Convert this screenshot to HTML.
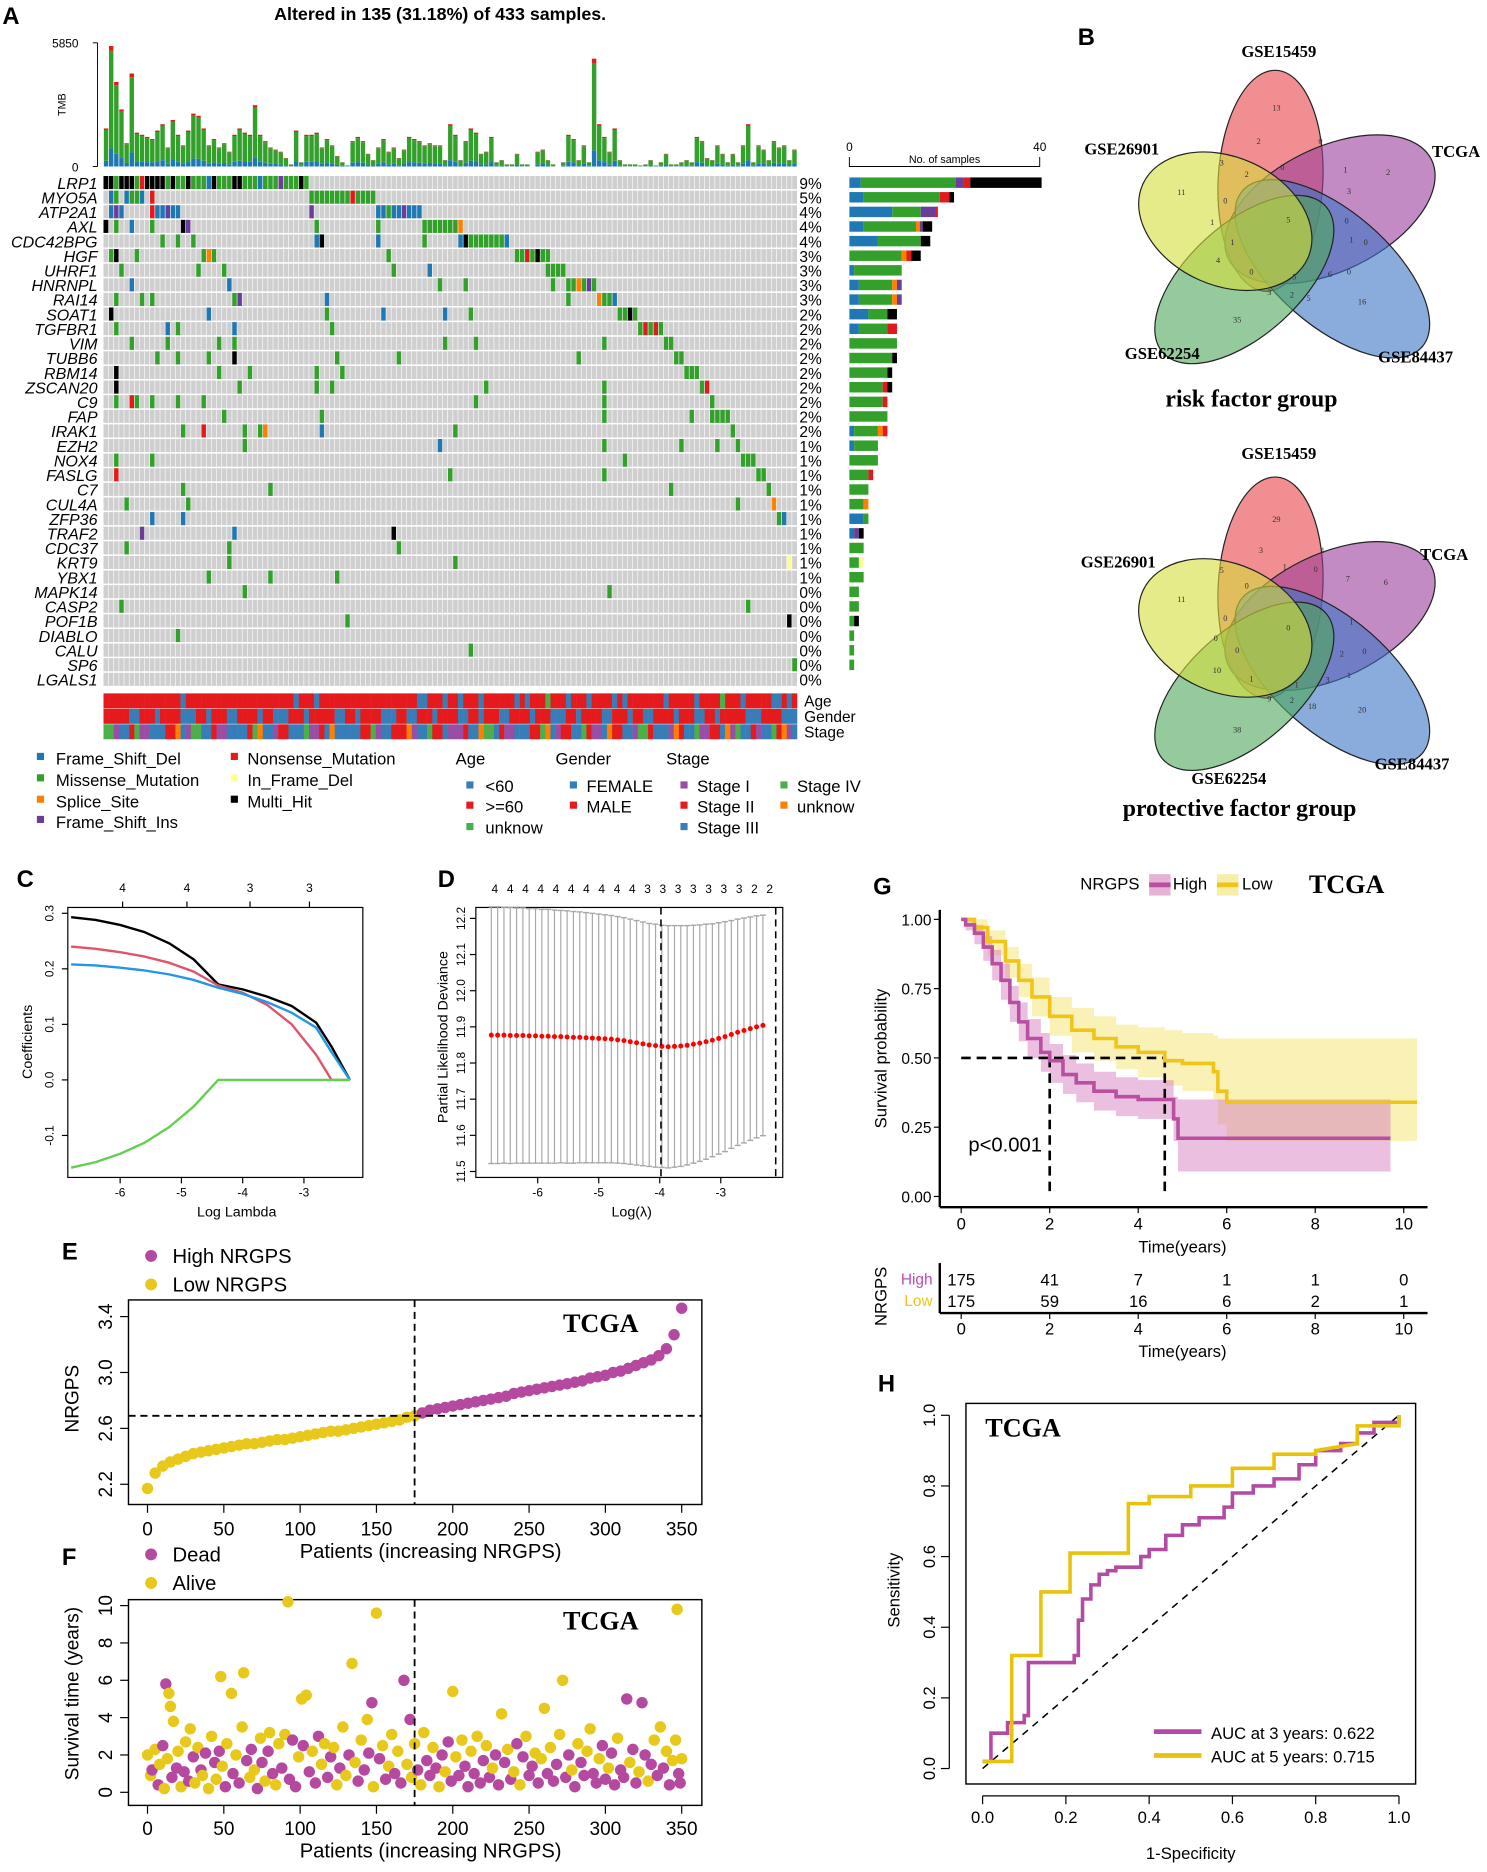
<!DOCTYPE html>
<html><head><meta charset="utf-8"><style>
html,body{margin:0;padding:0;background:#fff;}
svg{display:block;font-family:"Liberation Sans",sans-serif;}
.serif{font-family:"Liberation Serif",serif;font-weight:bold;}
</style></head><body>
<svg id="fig" width="1487" height="1872" viewBox="0 0 1250 1574" preserveAspectRatio="none" xmlns="http://www.w3.org/2000/svg">
<rect x="0" y="0" width="1250" height="1574" fill="#fff"/>
<text x="2" y="20" font-size="20" font-weight="bold">A</text>
<text x="370" y="17" font-size="15" font-weight="bold" text-anchor="middle">Altered in 135 (31.18%) of 433 samples.</text>
<text transform="translate(55,88) rotate(-90)" font-size="9" text-anchor="middle">TMB</text>
<text x="66" y="40" font-size="10" text-anchor="end">5850</text>
<text x="66" y="144" font-size="10" text-anchor="end">0</text>
<line x1="82" y1="36" x2="82" y2="140" stroke="#000" stroke-width="0.8"/>
<line x1="78" y1="36" x2="82" y2="36" stroke="#000" stroke-width="0.8"/>
<line x1="78" y1="140" x2="82" y2="140" stroke="#000" stroke-width="0.8"/>
<text x="714" y="127" font-size="10" text-anchor="middle">0</text>
<text x="874" y="127" font-size="10" text-anchor="middle">40</text>
<text x="794" y="137" font-size="9" text-anchor="middle">No. of samples</text>
<path d="M714,132 V140 H874 V132" fill="none" stroke="#000" stroke-width="0.8"/>
<text x="676" y="594" font-size="13">Age</text>
<text x="676" y="607" font-size="13">Gender</text>
<text x="676" y="620" font-size="13">Stage</text>
<g id="gA"></g>
<g font-size="14">
<rect x="31" y="633" width="6" height="6" fill="#1f78b4"/><text x="47" y="643">Frame_Shift_Del</text>
<rect x="31" y="651" width="6" height="6" fill="#33a02c"/><text x="47" y="661">Missense_Mutation</text>
<rect x="31" y="669" width="6" height="6" fill="#ff7f00"/><text x="47" y="679">Splice_Site</text>
<rect x="31" y="686" width="6" height="6" fill="#6a3d9a"/><text x="47" y="696">Frame_Shift_Ins</text>
<rect x="194" y="633" width="6" height="6" fill="#e31a1c"/><text x="208" y="643">Nonsense_Mutation</text>
<rect x="194" y="651" width="6" height="6" fill="#ffff99"/><text x="208" y="661">In_Frame_Del</text>
<rect x="194" y="669" width="6" height="6" fill="#000"/><text x="208" y="679">Multi_Hit</text>
<text x="383" y="643">Age</text><text x="467" y="643">Gender</text><text x="560" y="643">Stage</text>
<rect x="392" y="657" width="6" height="6" fill="#377eb8"/><text x="408" y="666">&lt;60</text>
<rect x="392" y="674" width="6" height="6" fill="#e41a1c"/><text x="408" y="683">&gt;=60</text>
<rect x="392" y="692" width="6" height="6" fill="#4daf4a"/><text x="408" y="701">unknow</text>
<rect x="479" y="657" width="6" height="6" fill="#377eb8"/><text x="493" y="666">FEMALE</text>
<rect x="479" y="674" width="6" height="6" fill="#e41a1c"/><text x="493" y="683">MALE</text>
<rect x="572" y="657" width="6" height="6" fill="#984ea3"/><text x="586" y="666">Stage I</text>
<rect x="572" y="674" width="6" height="6" fill="#e41a1c"/><text x="586" y="683">Stage II</text>
<rect x="572" y="692" width="6" height="6" fill="#377eb8"/><text x="586" y="701">Stage III</text>
<rect x="656" y="657" width="6" height="6" fill="#4daf4a"/><text x="670" y="666">Stage IV</text>
<rect x="656" y="674" width="6" height="6" fill="#ff7f00"/><text x="670" y="683">unknow</text>
</g>
<text x="906" y="38" font-size="20" font-weight="bold">B</text>
<g id="venn1"></g>
<g id="venn2" transform="translate(0,342)"></g>
<g class="serif" font-size="14">
<text x="1075" y="48" text-anchor="middle">GSE15459</text>
<text x="943" y="130" text-anchor="middle">GSE26901</text>
<text x="1224" y="132" text-anchor="middle">TCGA</text>
<text x="977" y="302" text-anchor="middle">GSE62254</text>
<text x="1190" y="305" text-anchor="middle">GSE84437</text>
<text x="1052" y="342" text-anchor="middle" font-size="20">risk factor group</text>
<text x="1075" y="386" text-anchor="middle">GSE15459</text>
<text x="940" y="477" text-anchor="middle">GSE26901</text>
<text x="1214" y="471" text-anchor="middle">TCGA</text>
<text x="1033" y="659" text-anchor="middle">GSE62254</text>
<text x="1187" y="647" text-anchor="middle">GSE84437</text>
<text x="1042" y="686" text-anchor="middle" font-size="20">protective factor group</text>
</g>
<text x="14" y="746" font-size="20" font-weight="bold">C</text>
<rect x="57" y="763" width="248" height="227" fill="none" stroke="#000" stroke-width="1"/>
<text x="199" y="1023" font-size="12" text-anchor="middle">Log Lambda</text>
<text transform="translate(27,876) rotate(-90)" font-size="12" text-anchor="middle">Coefficients</text>
<g id="gC"></g>
<text x="368" y="746" font-size="20" font-weight="bold">D</text>
<rect x="400" y="763" width="258" height="227" fill="none" stroke="#000" stroke-width="1"/>
<text x="531" y="1023" font-size="12" text-anchor="middle">Log(λ)</text>
<text transform="translate(376,872) rotate(-90)" font-size="12" text-anchor="middle">Partial Likelihood Deviance</text>
<g id="gD"></g>
<text x="734" y="752" font-size="20" font-weight="bold">G</text>
<g>
<text x="933" y="748" font-size="14" text-anchor="middle">NRGPS</text>
<rect x="966" y="735" width="18" height="18" fill="#e6b3d6"/><rect x="966" y="742" width="18" height="4" fill="#b84fa0"/>
<text x="986" y="748" font-size="14">High</text>
<rect x="1023" y="735" width="18" height="18" fill="#f7eeaa"/><rect x="1023" y="742" width="18" height="4" fill="#f0c419"/>
<text x="1044" y="748" font-size="14">Low</text>
<text class="serif" x="1132" y="751" font-size="22" text-anchor="middle">TCGA</text>
</g>
<text transform="translate(745,890) rotate(-90)" font-size="14" text-anchor="middle">Survival probability</text>
<text x="994" y="1053" font-size="14" text-anchor="middle">Time(years)</text>
<text x="814" y="968" font-size="17">p&lt;0.001</text>
<text transform="translate(745,1090) rotate(-90)" font-size="14" text-anchor="middle">NRGPS</text>
<text x="784" y="1080" font-size="13" fill="#c04cb0" text-anchor="end">High</text>
<text x="784" y="1098" font-size="13" fill="#f0c419" text-anchor="end">Low</text>
<text x="994" y="1141" font-size="14" text-anchor="middle">Time(years)</text>
<g id="gG"></g>
<text x="52" y="1059" font-size="20" font-weight="bold">E</text>
<circle cx="127" cy="1056" r="5" fill="#b5499f"/><text x="145" y="1062" font-size="17">High NRGPS</text>
<circle cx="127" cy="1080" r="5" fill="#e8c81a"/><text x="145" y="1086" font-size="17">Low NRGPS</text>
<rect x="108" y="1093" width="482" height="172" fill="none" stroke="#000" stroke-width="1.2"/>
<text class="serif" x="505" y="1120" font-size="22" text-anchor="middle">TCGA</text>
<text transform="translate(66,1176) rotate(-90)" font-size="16" text-anchor="middle">NRGPS</text>
<text x="362" y="1310" font-size="17" text-anchor="middle">Patients (increasing NRGPS)</text>
<g id="gE"></g>
<text x="52" y="1316" font-size="20" font-weight="bold">F</text>
<circle cx="127" cy="1307" r="5" fill="#b5499f"/><text x="145" y="1313" font-size="17">Dead</text>
<circle cx="127" cy="1331" r="5" fill="#e8c81a"/><text x="145" y="1337" font-size="17">Alive</text>
<rect x="108" y="1345" width="482" height="173" fill="none" stroke="#000" stroke-width="1.2"/>
<text class="serif" x="505" y="1370" font-size="22" text-anchor="middle">TCGA</text>
<text transform="translate(66,1424) rotate(-90)" font-size="16" text-anchor="middle">Survival time (years)</text>
<text x="362" y="1562" font-size="17" text-anchor="middle">Patients (increasing NRGPS)</text>
<g id="gF"></g>
<text x="738" y="1170" font-size="20" font-weight="bold">H</text>
<rect x="812" y="1180" width="378" height="320" fill="none" stroke="#000" stroke-width="1.2"/>
<text class="serif" x="860" y="1208" font-size="22" text-anchor="middle">TCGA</text>
<text transform="translate(756,1337) rotate(-90)" font-size="14" text-anchor="middle">Sensitivity</text>
<text x="1001" y="1563" font-size="14" text-anchor="middle">1-Specificity</text>
<g>
<line x1="970" y1="1456" x2="1010" y2="1456" stroke="#b44aa5" stroke-width="4"/>
<text x="1018" y="1462" font-size="14">AUC at 3 years: 0.622</text>
<line x1="970" y1="1476" x2="1010" y2="1476" stroke="#e8c30a" stroke-width="4"/>
<text x="1018" y="1482" font-size="14">AUC at 5 years: 0.715</text>
</g>
<g id="gH"></g>
</svg>
<script>
const tmbValues=[1800,5700,4000,2700,1100,4400,1600,1500,1400,1300,1700,2000,900,2200,1500,1000,1700,2500,2400,1800,1000,1300,900,1100,700,1500,1800,1600,1500,2900,1500,1200,900,800,700,400,100,1700,200,1500,1500,1600,900,1300,1000,500,200,50,1200,1400,1200,600,300,900,1300,700,900,400,800,1400,1300,1200,1000,1100,1000,1000,300,2000,1500,300,1200,1800,1600,600,700,1400,200,300,100,100,600,100,100,0,700,800,300,100,0,200,1500,1300,300,1000,200,5100,2000,1400,700,1800,300,100,100,100,50,100,300,50,200,600,100,100,200,300,200,1400,1200,400,300,1000,600,200,600,200,1000,2000,200,1000,800,300,1200,900,1000,300,800];
const genes=["LRP1","MYO5A","ATP2A1","AXL","CDC42BPG","HGF","UHRF1","HNRNPL","RAI14","SOAT1","TGFBR1","VIM","TUBB6","RBM14","ZSCAN20","C9","FAP","IRAK1","EZH2","NOX4","FASLG","C7","CUL4A","ZFP36","TRAF2","CDC37","KRT9","YBX1","MAPK14","CASP2","POF1B","DIABLO","CALU","SP6","LGALS1"];
const genePct=["9%","5%","4%","4%","4%","3%","3%","3%","3%","2%","2%","2%","2%","2%","2%","2%","2%","2%","1%","1%","1%","1%","1%","1%","1%","1%","1%","1%","0%","0%","0%","0%","0%","0%","0%"];
const geneMuts=[
"0-1:k,2:g,3-5:k,6:g,7:r,8-11:k,12:g,13:k,14-15:g,16:k,17-19:g,20:b,21:k,22-24:g,25:k,26:k,27-29:g,30:b,31-33:g,34:p,35-37:g,38:k,39:g",
"1:b,2:g,4:b,5-6:g,7:b,9:r,40-47:g,48:r,49-52:g",
"1:b,2:p,3:b,9:r,10-11:b,12:p,13-14:b,40:p,53-54:b,55:g,56-57:b,58:p,59-61:b",
"0:k,2:g,5:b,9:g,15:k,16:p,41:g,53:g,62:g,63-68:g,69:o",
"11:g,14:g,17:g,41:b,42:k,53:b,62:g,69:b,70:k,71-77:g,78:b",
"1:g,2:k,6:g,19:g,20:o,21:g,55:g,80-81:g,82:r,83:g,84:k,85-86:g",
"3:g,18:g,23:g,56:g,63:b,86-89:g",
"5:b,24:b,65:g,70:g,87:g,90-91:g,92:o,93:g,94:p,95:g",
"2:g,7:g,9:g,25:g,26:p,43:b,90:g,96:o,97-98:g,99:b",
"1:k,20:b,43:g,54:b,66:b,71:g,100-101:g,102:k,103:g",
"2:g,12:b,14:g,25:b,44:g,104:g,105:r,106:g,107:r,108:g",
"5:g,12:g,22:g,25:g,66:g,72:g,97:g,109-110:g",
"10:g,14:g,20:g,25:k,45:g,57:g,92:g,111-112:g",
"2:k,22:g,28:g,41:g,46:g,113-115:g",
"2:k,26:g,41:g,44:g,74:g,97:g,116:g,117:r",
"2:g,5:r,6:g,9:g,14:g,19:g,72:g,97:g,118:g",
"23:g,42:g,97:g,114:g,118-121:g",
"15:g,19:r,27:g,30:g,31:o,42:b,68:g,122:g",
"27:g,65:b,97:g,112:g,119:g,123:g",
"2:g,9:g,101:g,124-126:g",
"2:r,67:g,97:g,127-128:g",
"15:g,32:g,110:g,129:g",
"4:g,16:g,123:g,130:o",
"9:b,15:b,131:g,132:b",
"7:p,25:b,56:k",
"4:g,24:g,57:g",
"24:g,68:g,133:y",
"20:g,32:g,45:g",
"27:g,98:g",
"3:g,125:g",
"47:g,133:k",
"14:g",
"71:g",
"134:g",
""];
const geneBars=["b2.4,g20,p1.6,r1.4,k15","b3,g16,r2,k1","b9,g6,p3,r0.6","b3,g11,o0.8,p0.6,k2","b6,g9,k2","g11,o1,r1,k2","b1,g10","b2,g7,o1,p1","b2,g7,o1,p1","b4,g4,k2","b2,g6,r2","g10","g9,k1","g8,k1","g7,r1,k1","g7,r1","g8","b1,g5,o1,r1","b1,g5","g6","g4,r1","g4","g3,o1","b3,g1","b1,p1,k1","g3","g2,y1","g3","g2","g2","g1,k1","g1","g1","g1",""];
const ageRow="r15b1r21b1r3b1r19b2r3b1r2b1r3b1r6b1r1b1r3g1r3b1r3b1r4b1r1b1r7b1r5b1r4g1r3b1r5b2r1b1r1";
const genderRow="r5b2r3b1r4b3r2b1r3b2r4b1r2b3r3b1r5b2r2b1r4b3r2b2r3b1r4b2r2b1r3b2r4b1r3b3r2b1r4b2r3b1r2b2r4b1r3b2r2b1r5b3r4b3";
const stageRow="g2p1b2r1g1p2b3r2o1b1p1g2b2r1p2b4r1g1o1b2p1r2b3g1p2r1b1o1b5r2g1p1b2r3o1p1b2g1r2b1p3r1b2o1g2b1r1p2b3r2g1o1b1p1r2b2g1r1p2b1o1r2b2p1g2r1b3p1o1r1b2g1p2r2b1o1p1g1b2r1p1b2g1r1o1p1b2";
const mutCol={g:"#33a02c",b:"#1f78b4",r:"#e31a1c",o:"#ff7f00",p:"#6a3d9a",y:"#ffff99",k:"#000000"};
const clinCol={r:"#e41a1c",b:"#377eb8",g:"#4daf4a",p:"#984ea3",o:"#ff7f00"};

const lamC=[-6.8,-6.4,-6,-5.6,-5.2,-4.8,-4.4,-4,-3.6,-3.2,-2.8,-2.55,-2.25];
const coefBlack=[0.293,0.288,0.279,0.266,0.246,0.217,0.172,0.163,0.15,0.133,0.103,0.06,0];
const coefRed=[0.24,0.236,0.23,0.222,0.211,0.195,0.17,0.157,0.135,0.1,0.045,0,0];
const coefBlue=[0.208,0.206,0.202,0.197,0.19,0.18,0.166,0.155,0.14,0.121,0.094,0.05,0];
const coefGreen=[-0.158,-0.148,-0.133,-0.113,-0.085,-0.048,0,0,0,0,0,0,0];
const cTopLabels=["4","4","3","3"], cTopLam=[-5.96,-4.91,-3.88,-2.91];
const cXTicks=[-6,-5,-4,-3], cYTicks=[-0.1,0,0.1,0.2,0.3];
const devD=[11.877,11.877,11.877,11.876,11.876,11.876,11.875,11.875,11.874,11.874,11.873,11.873,11.872,11.871,11.871,11.870,11.869,11.868,11.867,11.866,11.864,11.862,11.859,11.856,11.853,11.850,11.848,11.846,11.845,11.846,11.847,11.849,11.852,11.855,11.859,11.863,11.868,11.873,11.879,11.885,11.890,11.895,11.900,11.904];
const sdD=[0.355,0.355,0.354,0.354,0.353,0.353,0.352,0.352,0.351,0.351,0.350,0.349,0.349,0.348,0.347,0.346,0.345,0.344,0.343,0.342,0.341,0.34,0.339,0.338,0.337,0.336,0.336,0.335,0.335,0.334,0.333,0.331,0.329,0.327,0.325,0.322,0.32,0.318,0.315,0.313,0.311,0.309,0.307,0.305];
const lamDStart=-6.76, lamDStep=0.1035;
const dTopLabels=["4","4","4","4","4","4","4","4","4","4","3","3","3","3","3","3","3","2","2"];
const dXTicks=[-6,-5,-4,-3], dYTicks=[11.5,11.6,11.7,11.8,11.9,12.0,12.1,12.2];
const dVlines=[-3.98,-2.1];
const highT=[0,0.1,0.3,0.5,0.7,0.9,1.1,1.3,1.5,1.8,2.0,2.3,2.6,3.0,3.5,4.0,4.6,4.8,4.9,9.7];
const highS=[1,0.98,0.95,0.9,0.84,0.78,0.7,0.63,0.57,0.52,0.49,0.44,0.41,0.38,0.36,0.35,0.35,0.28,0.21,0.21];
const highHi=[1,1,0.98,0.94,0.89,0.84,0.76,0.7,0.64,0.59,0.55,0.51,0.48,0.45,0.43,0.42,0.42,0.36,0.35,0.45];
const highLo=[1,0.96,0.91,0.85,0.78,0.71,0.63,0.56,0.5,0.45,0.41,0.37,0.34,0.31,0.29,0.28,0.28,0.2,0.09,0.09];
const lowT=[0,0.3,0.6,1,1.3,1.6,2,2.5,3,3.5,4,4.6,5,5.7,5.8,6,10.3];
const lowS=[1,0.97,0.92,0.85,0.78,0.72,0.65,0.6,0.57,0.54,0.52,0.49,0.48,0.45,0.38,0.34,0.34];
const lowHi=[1,1,0.96,0.9,0.84,0.79,0.72,0.68,0.65,0.62,0.61,0.6,0.59,0.58,0.57,0.57,0.57];
const lowLo=[1,0.94,0.87,0.79,0.72,0.65,0.58,0.52,0.49,0.46,0.43,0.4,0.38,0.35,0.26,0.2,0.2];
const medHigh=2.0, medLow=4.6;
const gXTicks=[0,2,4,6,8,10], gYTicks=[0,0.25,0.5,0.75,1];
const riskHigh=[175,41,7,1,1,0], riskLow=[175,59,16,6,2,1];
const eVals=[2.17,2.28,2.33,2.36,2.38,2.40,2.42,2.43,2.44,2.45,2.46,2.47,2.48,2.49,2.49,2.50,2.51,2.52,2.52,2.53,2.54,2.55,2.56,2.57,2.58,2.58,2.59,2.60,2.61,2.62,2.63,2.64,2.65,2.66,2.68,2.69,2.71,2.73,2.74,2.75,2.76,2.77,2.78,2.79,2.80,2.81,2.82,2.83,2.85,2.86,2.87,2.88,2.89,2.90,2.91,2.92,2.93,2.94,2.96,2.97,2.98,3.00,3.01,3.03,3.05,3.07,3.09,3.12,3.17,3.27,3.46];
const eStep=5, eCut=175, eCutVal=2.69;
const eXTicks=[0,50,100,150,200,250,300,350], eYTicks=[2.2,2.6,3.0,3.4];
const fPat=[0,2,3,5,7,8,10,11,12,13,14,15,16,17,19,20,22,24,25,27,28,30,31,33,35,36,38,40,42,44,45,47,48,49,51,52,55,56,58,60,62,63,65,67,68,70,72,74,75,77,79,80,82,84,86,88,90,92,93,95,97,99,101,102,104,106,108,110,112,114,116,118,120,122,124,126,128,130,132,134,136,138,140,142,144,145,147,148,150,152,154,156,158,160,162,164,166,168,170,172,173,175,177,179,181,183,185,187,189,191,193,195,197,199,200,202,204,206,208,210,212,214,216,218,220,222,224,226,228,230,232,234,236,238,240,242,244,246,248,250,252,254,256,258,260,262,264,266,268,270,272,274,276,278,280,282,284,286,288,290,292,294,296,298,300,302,304,306,308,310,312,314,316,318,320,322,324,326,328,330,332,334,336,338,340,342,344,346,347,348,349,350];
const fTime=[2.0,0.9,1.2,2.3,0.4,1.5,2.5,0.2,5.8,1.8,5.3,4.6,0.8,3.8,1.3,2.2,0.3,1.1,2.7,0.6,3.4,1.9,0.5,2.4,1.2,0.9,2.1,0.2,3.0,1.6,0.7,2.2,6.2,1.4,0.3,2.6,5.3,1.0,2.0,0.5,3.5,6.4,1.7,0.8,2.3,1.2,0.2,2.9,1.6,0.6,2.2,3.2,1.0,0.4,2.6,1.3,3.1,10.2,0.7,2.8,0.3,1.9,5.0,2.5,5.2,1.1,2.2,0.5,3.0,1.5,2.6,0.8,1.9,2.4,0.4,1.3,3.5,0.9,2.0,6.9,1.6,0.6,2.8,1.2,3.9,2.1,4.8,0.3,9.6,1.8,2.5,0.7,1.4,3.1,1.0,2.2,0.5,6.0,1.5,3.9,0.8,2.6,1.2,0.4,3.2,1.7,0.9,2.4,1.3,0.3,2.0,1.1,2.7,0.6,5.4,1.9,0.9,2.8,1.4,0.3,2.2,1.0,3.0,0.5,1.7,2.5,0.8,1.3,2.0,0.4,4.2,1.6,2.3,0.7,1.1,2.6,0.4,1.9,3.0,0.9,1.4,2.1,0.5,1.8,4.5,1.0,2.4,0.6,1.5,3.1,6.0,0.8,2.0,1.2,0.3,2.6,1.6,0.9,2.2,3.4,1.0,0.5,1.8,2.5,0.7,1.3,2.1,0.4,2.9,1.2,0.8,5.0,1.6,2.3,0.5,1.1,4.8,2.0,0.6,1.5,2.8,0.9,3.5,1.3,2.2,0.4,1.7,2.8,9.8,1.0,0.5,1.8];
const fDead=[0,0,1,0,1,0,1,0,1,0,0,0,1,0,1,0,0,1,0,1,0,1,0,0,1,0,1,0,0,1,0,1,0,0,1,0,0,1,0,1,0,0,1,0,1,0,1,0,1,0,1,0,1,0,0,1,0,0,1,1,1,0,0,1,0,1,0,1,1,0,0,1,1,0,0,1,0,0,1,0,0,1,0,1,0,1,1,0,0,1,0,1,0,0,1,0,1,1,0,1,0,0,1,0,0,1,1,0,1,0,1,0,1,1,0,0,1,0,1,1,0,1,0,1,1,0,1,0,1,1,0,1,0,1,0,1,0,1,0,1,1,0,1,0,0,1,0,1,1,0,0,1,1,0,1,0,1,1,0,0,1,1,0,1,1,0,1,1,0,1,1,1,0,1,1,0,1,1,0,1,0,1,0,1,0,1,0,0,0,1,1,0];
const fXTicks=[0,50,100,150,200,250,300,350], fYTicks=[0,2,4,6,8,10];
const roc3F=[0,0.02,0.02,0.06,0.06,0.1,0.11,0.12,0.22,0.23,0.24,0.26,0.28,0.3,0.32,0.38,0.4,0.44,0.48,0.52,0.58,0.6,0.65,0.7,0.76,0.8,0.86,0.9,0.94,1,1];
const roc3T=[0.02,0.02,0.1,0.1,0.13,0.13,0.15,0.3,0.3,0.32,0.42,0.48,0.52,0.55,0.56,0.57,0.6,0.62,0.66,0.69,0.71,0.74,0.78,0.8,0.82,0.86,0.9,0.92,0.95,0.98,1];
const roc5F=[0,0.07,0.07,0.14,0.14,0.21,0.21,0.35,0.35,0.4,0.4,0.5,0.5,0.6,0.6,0.7,0.7,0.8,0.8,0.9,0.9,1,1];
const roc5T=[0.02,0.02,0.32,0.32,0.5,0.5,0.61,0.61,0.75,0.75,0.77,0.77,0.8,0.8,0.85,0.85,0.89,0.89,0.9,0.92,0.97,0.97,1];
const hTicks=[0,0.2,0.4,0.6,0.8,1.0];

const NS="http://www.w3.org/2000/svg";
function mk(p,tag,attrs,txt){const e=document.createElementNS(NS,tag);for(const k in attrs)e.setAttribute(k,attrs[k]);if(txt!=null)e.textContent=txt;p.appendChild(e);return e;}
function rle(s,n){const out=[];const re=/([a-z])([0-9.]+)/g;let m;while((m=re.exec(s)))for(let i=0;i<+m[2];i++)out.push(m[1]);while(out.length<n)out.push('b');return out.slice(0,n);}

(function(){
const g=document.getElementById('gA');
const N=135,x0=87,x1=670,cw=(x1-x0)/N;
const yT=v=>140-v/5850*104;
tmbValues.forEach((v,i)=>{
 const x=x0+i*cw, top=yT(v), h=140-top;
 const bl=mk(g,'rect',{x:x+0.3,y:140-h*0.15,width:cw-0.6,height:h*0.15,fill:'#1f78b4'});
 
 
 const gr=mk(g,'rect',{x:x+0.3,y:top+h*0.04,width:cw-0.6,height:h*0.81,fill:'#33a02c'});
 
 
 const rd=mk(g,'rect',{x:x+0.3,y:top,width:cw-0.6,height:h*0.04,fill:'#e31a1c'});
 
 
});
const rh=(578-148)/genes.length;
genes.forEach((gn,r)=>{
 const y=148+r*rh;
 const bg=mk(g,'rect',{x:x0,y:y,width:x1-x0,height:rh-1.3,fill:'#cfcfcf'});
 
 
 const lb=mk(g,'text',{x:82,y:y+rh-1.5,'font-size':13.5,'font-style':'italic','text-anchor':'end'},gn);
 
 
 const pc=mk(g,'text',{x:672,y:y+rh-1.5,'font-size':13},genePct[r]);
 
 
 geneMuts[r].split(',').filter(s=>s).forEach(tok=>{
  const [rng,t]=tok.split(':');const [a,b]=rng.split('-').map(Number);const bb=isNaN(b)?a:b;
  for(let c=a;c<=bb;c++){
   const cell=mk(g,'rect',{x:x0+c*cw,y:y,width:cw,height:rh-1.3,fill:mutCol[t]});
   
   
  }
 });
 let bx=714;
 geneBars[r].split(',').filter(s=>s).forEach(seg=>{
  const t=seg[0],v=parseFloat(seg.slice(1));const w=v*4;
  const br=mk(g,'rect',{x:bx,y:y+1.2,width:w,height:rh-3.5,fill:mutCol[t]});
  
  
  bx+=w;
 });
});
for(let c=1;c<N;c++){mk(g,'line',{x1:x0+c*cw,y1:148,x2:x0+c*cw,y2:578,stroke:'#fff','stroke-width':0.5});}
[ageRow,genderRow,stageRow].forEach((row,k)=>{
 const arr=rle(row,N);
 arr.forEach((t,c)=>{
  const cl=mk(g,'rect',{x:x0+c*cw,y:583+k*13,width:cw+0.2,height:12.6,fill:clinCol[t]});
  
  
 });
});
})();

(function(){
const ell=[["#e8434a",1068,152,44,93,3],["#9b3d9b",1118,176,95,52,-26],["#3a75c4",1120,226,100,48,41],["#4ea85a",1046,235,92,47,-42],["#d6dd3a",1030,186,76,54,24]];
const nums1=[["13",1073,93],["3",1027,139],["2",1058,121],["0",1110,121],["2",1167,147],["11",993,164],["2",1048,149],["0",1078,143],["1",1131,145],["3",1134,163],["0",1030,171],["5",1083,187],["0",1132,188],["1",1019,189],["1",1136,204],["1",1036,206],["0",1148,206],["4",1024,221],["0",1052,231],["5",1088,235],["6",1118,233],["0",1134,231],["3",1067,248],["2",1086,250],["5",1100,253],["16",1145,256],["35",1040,271]];
const nums2=[["29",1073,97],["3",1060,123],["1",1112,123],["5",1027,140],["1",1080,137],["0",1106,139],["7",1133,147],["6",1165,150],["11",993,164],["0",1048,153],["0",1030,180],["0",1083,188],["1",1136,183],["0",1022,197],["0",1040,207],["2",1128,210],["0",1147,208],["10",1023,224],["1",1052,231],["1",1090,236],["3",1116,232],["1",1134,228],["9",1067,248],["2",1086,249],["18",1103,254],["20",1145,257],["38",1040,274]];
[['venn1',nums1],['venn2',nums2]].forEach(([id,nums])=>{
 const g=document.getElementById(id);
 ell.forEach(e=>{
  const el=mk(g,'ellipse',{cx:e[1],cy:e[2],rx:e[3],ry:e[4],transform:`rotate(${e[5]} ${e[1]} ${e[2]})`,fill:e[0],'fill-opacity':0.6,stroke:'#222','stroke-width':1});
  
  
 });
 nums.forEach(n=>{
  const t=mk(g,'text',{x:n[1],y:n[2],'font-size':7,'font-family':'Liberation Serif, serif','text-anchor':'middle',fill:'#333'},n[0]);
  
  
 });
});
})();

(function(){
const g=document.getElementById('gC');
const xC=l=>101+(l+6)*51.5, yC=v=>908-v*467;
[[coefBlack,'#000'],[coefRed,'#df536b'],[coefBlue,'#2297e6'],[coefGreen,'#61d04f']].forEach(([arr,c])=>{
 const p=mk(g,'polyline',{points:lamC.map((l,i)=>xC(l)+','+yC(arr[i])).join(' '),fill:'none',stroke:c,'stroke-width':2,'stroke-linejoin':'round'});
 
 
});
cXTicks.forEach(v=>{mk(g,'line',{x1:xC(v),y1:990,x2:xC(v),y2:995,stroke:'#000'});
 const t=mk(g,'text',{x:xC(v),y:1006,'font-size':10,'text-anchor':'middle'},String(v));
 
 });
cYTicks.forEach(v=>{mk(g,'line',{x1:52,y1:yC(v),x2:57,y2:yC(v),stroke:'#000'});
 const t=mk(g,'text',{transform:`translate(45,${yC(v)}) rotate(-90)`,'font-size':10,'text-anchor':'middle'},v.toFixed(1));
 
 });
cTopLam.forEach((l,i)=>{mk(g,'line',{x1:xC(l),y1:758,x2:xC(l),y2:763,stroke:'#000'});
 const t=mk(g,'text',{x:xC(l),y:750,'font-size':10,'text-anchor':'middle'},cTopLabels[i]);
 
 });
})();

(function(){
const g=document.getElementById('gD');
const xD=l=>452+(l+6)*51.3, yD=v=>985-(v-11.5)*304;
devD.forEach((d,i)=>{
 const l=lamDStart+i*lamDStep, x=xD(l);
 const eb=mk(g,'line',{x1:x,y1:yD(d+sdD[i]),x2:x,y2:yD(d-sdD[i]),stroke:'#a8a8a8','stroke-width':1});
 
 
 mk(g,'line',{x1:x-2.5,y1:yD(d+sdD[i]),x2:x+2.5,y2:yD(d+sdD[i]),stroke:'#a8a8a8','stroke-width':1.2});
 mk(g,'line',{x1:x-2.5,y1:yD(d-sdD[i]),x2:x+2.5,y2:yD(d-sdD[i]),stroke:'#a8a8a8','stroke-width':1.2});
});
devD.forEach((d,i)=>{
 const pt=mk(g,'circle',{cx:xD(lamDStart+i*lamDStep),cy:yD(d),r:2.1,fill:'#ff0000'});
 
 
});
dVlines.forEach(l=>{const v=mk(g,'line',{x1:xD(l),y1:763,x2:xD(l),y2:990,stroke:'#000','stroke-width':1.3,'stroke-dasharray':'6,4'});
 
 });
dXTicks.forEach(v=>{mk(g,'line',{x1:xD(v),y1:990,x2:xD(v),y2:995,stroke:'#000'});
 const t=mk(g,'text',{x:xD(v),y:1006,'font-size':10,'text-anchor':'middle'},String(v));
 
 });
dYTicks.forEach(v=>{mk(g,'line',{x1:395,y1:yD(v),x2:400,y2:yD(v),stroke:'#000'});
 const t=mk(g,'text',{transform:`translate(391,${yD(v)}) rotate(-90)`,'font-size':10,'text-anchor':'middle'},v.toFixed(1));
 
 });
const sp=(647-416)/(dTopLabels.length-1);
dTopLabels.forEach((s,i)=>{const t=mk(g,'text',{x:416+i*sp,y:751,'font-size':10,'text-anchor':'middle'},s);
 
 });
})();

(function(){
const g=document.getElementById('gG');
const xG=t=>808+t*37.2, yG=s=>1006-s*233;
function stepPts(T,S){let p=[];T.forEach((t,i)=>{if(i>0)p.push([xG(t),yG(S[i-1])]);p.push([xG(t),yG(S[i])]);});return p;}
function band(T,H,L){const up=stepPts(T,H),lo=stepPts(T,L).reverse();return up.concat(lo).map(p=>p.join(',')).join(' ');}
const b1=mk(g,'polygon',{points:band(lowT,lowHi,lowLo),fill:'#f2e05a','fill-opacity':0.45});


const b2=mk(g,'polygon',{points:band(highT,highHi,highLo),fill:'#d57fbf','fill-opacity':0.5});


const dl=mk(g,'path',{d:`M${xG(0)},${yG(0.5)} H${xG(medLow)} M${xG(medHigh)},${yG(0.5)} V${yG(0)} M${xG(medLow)},${yG(0.5)} V${yG(0)}`,stroke:'#000','stroke-width':2.2,'stroke-dasharray':'8,5',fill:'none'});


const l1=mk(g,'polyline',{points:stepPts(lowT,lowS).map(p=>p.join(',')).join(' '),fill:'none',stroke:'#f0c419','stroke-width':3});


const l2=mk(g,'polyline',{points:stepPts(highT,highS).map(p=>p.join(',')).join(' '),fill:'none',stroke:'#b84fa0','stroke-width':3});


mk(g,'line',{x1:790,y1:765,x2:790,y2:1015,stroke:'#000','stroke-width':2});
mk(g,'line',{x1:790,y1:1015,x2:1200,y2:1015,stroke:'#000','stroke-width':2});
gYTicks.forEach(v=>{mk(g,'line',{x1:785,y1:yG(v),x2:790,y2:yG(v),stroke:'#000'});
 const t=mk(g,'text',{x:783,y:yG(v)+5,'font-size':13,'text-anchor':'end'},v.toFixed(2));
 
 });
gXTicks.forEach((v,i)=>{mk(g,'line',{x1:xG(v),y1:1015,x2:xG(v),y2:1020,stroke:'#000'});
 const t=mk(g,'text',{x:xG(v),y:1034,'font-size':14,'text-anchor':'middle'},String(v));
 
 
 mk(g,'line',{x1:xG(v),y1:1104,x2:xG(v),y2:1109,stroke:'#000'});
 const t2=mk(g,'text',{x:xG(v),y:1122,'font-size':14,'text-anchor':'middle'},String(v));
 
 
 const h=mk(g,'text',{x:xG(v),y:1081,'font-size':14,'text-anchor':'middle'},String(riskHigh[i]));
 
 
 const lo=mk(g,'text',{x:xG(v),y:1099,'font-size':14,'text-anchor':'middle'},String(riskLow[i]));
 
 });
mk(g,'line',{x1:790,y1:1062,x2:790,y2:1104,stroke:'#000','stroke-width':2});
mk(g,'line',{x1:790,y1:1104,x2:1200,y2:1104,stroke:'#000','stroke-width':2});
})();

(function(){
const g=document.getElementById('gE');
const xE=i=>124+i*1.283, yE=v=>1248-(v-2.2)*117.5;
eVals.forEach((v,k)=>{const i=k*eStep;
 const c=mk(g,'circle',{cx:xE(i),cy:yE(v),r:4.8,fill:i<=eCut?'#e8c81a':'#b5499f'});
 
 });
mk(g,'line',{x1:108,y1:yE(eCutVal),x2:590,y2:yE(eCutVal),stroke:'#000','stroke-width':1.5,'stroke-dasharray':'6,4'});
mk(g,'line',{x1:xE(eCut),y1:1093,x2:xE(eCut),y2:1265,stroke:'#000','stroke-width':1.5,'stroke-dasharray':'6,4'});
eXTicks.forEach(v=>{mk(g,'line',{x1:xE(v),y1:1265,x2:xE(v),y2:1272,stroke:'#000'});
 const t=mk(g,'text',{x:xE(v),y:1291,'font-size':16,'text-anchor':'middle'},String(v));
 
 });
eYTicks.forEach(v=>{mk(g,'line',{x1:101,y1:yE(v),x2:108,y2:yE(v),stroke:'#000'});
 const t=mk(g,'text',{transform:`translate(94,${yE(v)}) rotate(-90)`,'font-size':16,'text-anchor':'middle'},v.toFixed(1));
 
 });
})();

(function(){
const g=document.getElementById('gF');
const xF=i=>124+i*1.283, yF=t=>1507-t*15.7;
fPat.forEach((p,i)=>{
 const c=mk(g,'circle',{cx:xF(p),cy:yF(fTime[i]),r:4.8,fill:fDead[i]?'#b5499f':'#e8c81a'});
 
 });
mk(g,'line',{x1:xF(eCut),y1:1345,x2:xF(eCut),y2:1518,stroke:'#000','stroke-width':1.5,'stroke-dasharray':'6,4'});
fXTicks.forEach(v=>{mk(g,'line',{x1:xF(v),y1:1518,x2:xF(v),y2:1525,stroke:'#000'});
 const t=mk(g,'text',{x:xF(v),y:1543,'font-size':16,'text-anchor':'middle'},String(v));
 
 });
fYTicks.forEach(v=>{mk(g,'line',{x1:101,y1:yF(v),x2:108,y2:yF(v),stroke:'#000'});
 const t=mk(g,'text',{transform:`translate(94,${yF(v)}) rotate(-90)`,'font-size':16,'text-anchor':'middle'},String(v));
 
 });
})();

(function(){
const g=document.getElementById('gH');
const xH=f=>826+f*350, yH=s=>1487-s*297;
function stepLine(F,T){let p=[];F.forEach((f,i)=>{if(i>0)p.push(xH(F[i-1])+','+yH(T[i]));p.push(xH(f)+','+yH(T[i]));});return p.join(' ');}
mk(g,'line',{x1:xH(0),y1:yH(0),x2:xH(1),y2:yH(1),stroke:'#000','stroke-width':1.3,'stroke-dasharray':'6,5'});
const r3=mk(g,'polyline',{points:stepLine(roc3F,roc3T),fill:'none',stroke:'#b44aa5','stroke-width':3});


const r5=mk(g,'polyline',{points:roc5F.map((f,i)=>xH(f)+','+yH(roc5T[i])).join(' '),fill:'none',stroke:'#e8c30a','stroke-width':3});


mk(g,'line',{x1:xH(0),y1:1510,x2:xH(1),y2:1510,stroke:'#000'});
mk(g,'line',{x1:798,y1:yH(0),x2:798,y2:yH(1),stroke:'#000'});
hTicks.forEach(v=>{mk(g,'line',{x1:xH(v),y1:1510,x2:xH(v),y2:1517,stroke:'#000'});
 const t=mk(g,'text',{x:xH(v),y:1533,'font-size':14,'text-anchor':'middle'},v.toFixed(1));
 
 
 mk(g,'line',{x1:791,y1:yH(v),x2:798,y2:yH(v),stroke:'#000'});
 const t2=mk(g,'text',{transform:`translate(786,${yH(v)}) rotate(-90)`,'font-size':14,'text-anchor':'middle'},v.toFixed(1));
 
 });
})();
</script>
</body></html>
